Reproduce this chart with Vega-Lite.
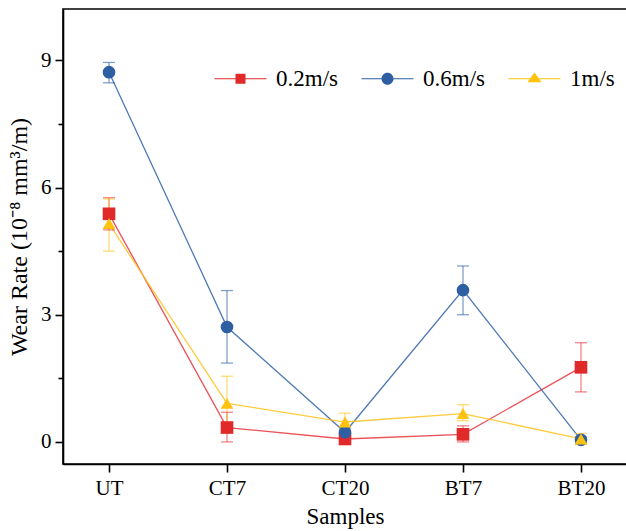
{
  "$schema": "https://vega.github.io/schema/vega-lite/v6.json",
  "autosize": "none",
  "width": 564,
  "height": 455,
  "padding": {"left": 63, "top": 9, "right": 0, "bottom": 67},
  "background": "white",
  "config": {
    "view": {"stroke": "black", "strokeWidth": 1.6},
    "font": "Liberation Serif"
  },
  "data": {
    "values": [
      {"sample": "UT", "speed": "0.2m/s", "rate": 5.38, "lo": 5.0, "hi": 5.76},
      {"sample": "CT7", "speed": "0.2m/s", "rate": 0.34, "lo": 0.0, "hi": 0.7},
      {"sample": "CT20", "speed": "0.2m/s", "rate": 0.07, "lo": 0.01, "hi": 0.13},
      {"sample": "BT7", "speed": "0.2m/s", "rate": 0.18, "lo": 0.0, "hi": 0.38},
      {"sample": "BT20", "speed": "0.2m/s", "rate": 1.76, "lo": 1.18, "hi": 2.34},
      {"sample": "UT", "speed": "0.6m/s", "rate": 8.72, "lo": 8.47, "hi": 8.95},
      {"sample": "CT7", "speed": "0.6m/s", "rate": 2.71, "lo": 1.86, "hi": 3.57},
      {"sample": "CT20", "speed": "0.6m/s", "rate": 0.23, "lo": 0.13, "hi": 0.33},
      {"sample": "BT7", "speed": "0.6m/s", "rate": 3.58, "lo": 3.0, "hi": 4.15},
      {"sample": "BT20", "speed": "0.6m/s", "rate": 0.05, "lo": -0.02, "hi": 0.12},
      {"sample": "UT", "speed": "1m/s", "rate": 5.15, "lo": 4.5, "hi": 5.73},
      {"sample": "CT7", "speed": "1m/s", "rate": 0.91, "lo": 0.28, "hi": 1.55},
      {"sample": "CT20", "speed": "1m/s", "rate": 0.47, "lo": 0.26, "hi": 0.68},
      {"sample": "BT7", "speed": "1m/s", "rate": 0.67, "lo": 0.5, "hi": 0.88},
      {"sample": "BT20", "speed": "1m/s", "rate": 0.07, "lo": -0.06, "hi": 0.2}
    ]
  },
  "encoding": {
    "x": {
      "field": "sample", "type": "ordinal",
      "sort": ["UT", "CT7", "CT20", "BT7", "BT20"],
      "scale": {"type": "point", "padding": 0.39},
      "axis": {
        "title": "Samples", "titleFontSize": 23, "titleFont": "Liberation Serif", "titleFontWeight": "normal", "titleColor": "black",
        "titlePadding": 7,
        "labelFontSize": 21, "labelFont": "Liberation Serif", "labelColor": "black", "labelAngle": 0, "labelPadding": 5,
        "tickSize": 8, "tickWidth": 1.6, "tickColor": "black",
        "domainColor": "black", "domainWidth": 1.6, "grid": false
      }
    },
    "y": {
      "field": "rate", "type": "quantitative",
      "scale": {"domain": [-0.52, 10.21], "nice": false, "zero": false},
      "axis": {
        "title": "Wear Rate (10⁻⁸ mm³/m)", "titleFontSize": 24, "titleFont": "Liberation Serif", "titleFontWeight": "normal", "titleColor": "black",
        "titlePadding": 9,
        "values": [0, 1.5, 3, 4.5, 6, 7.5, 9],
        "labelExpr": "datum.value % 3 === 0 ? datum.label : ''",
        "labelFontSize": 21, "labelFont": "Liberation Serif", "labelColor": "black", "labelPadding": 4,
        "tickSize": {"condition": {"test": "datum.value % 3 !== 0", "value": 5}, "value": 8},
        "tickWidth": 1.6, "tickColor": "black",
        "domainColor": "black", "domainWidth": 1.6, "grid": false
      }
    }
  },
  "resolve": {"scale": {"color": "independent", "shape": "independent"}},
  "layer": [
    {
      "mark": {"type": "line", "strokeWidth": 1.3, "opacity": 0.85},
      "encoding": {
        "color": {"field": "speed", "type": "nominal", "scale": {"domain": ["0.2m/s", "0.6m/s", "1m/s"], "range": ["#E8333A", "#2F62A8", "#FFC21A"]}, "legend": null}
      }
    },
    {
      "mark": {"type": "rule", "strokeWidth": 1.3, "opacity": 0.6},
      "encoding": {
        "y": {"field": "lo", "type": "quantitative"},
        "y2": {"field": "hi"},
        "color": {"field": "speed", "type": "nominal", "scale": {"domain": ["0.2m/s", "0.6m/s", "1m/s"], "range": ["#E8333A", "#2F62A8", "#FFC21A"]}, "legend": null}
      }
    },
    {
      "mark": {"type": "tick", "size": 12, "thickness": 1.3, "opacity": 0.6},
      "encoding": {
        "y": {"field": "lo", "type": "quantitative"},
        "color": {"field": "speed", "type": "nominal", "scale": {"domain": ["0.2m/s", "0.6m/s", "1m/s"], "range": ["#E8333A", "#2F62A8", "#FFC21A"]}, "legend": null}
      }
    },
    {
      "mark": {"type": "tick", "size": 12, "thickness": 1.3, "opacity": 0.6},
      "encoding": {
        "y": {"field": "hi", "type": "quantitative"},
        "color": {"field": "speed", "type": "nominal", "scale": {"domain": ["0.2m/s", "0.6m/s", "1m/s"], "range": ["#E8333A", "#2F62A8", "#FFC21A"]}, "legend": null}
      }
    },
    {
      "mark": {"type": "point", "filled": true, "opacity": 1},
      "encoding": {
        "color": {"field": "speed", "type": "nominal", "scale": {"domain": ["0.2m/s", "0.6m/s", "1m/s"], "range": ["#E02A2A", "#2E5FA3", "#FFC20E"]}, "legend": null},
        "shape": {"field": "speed", "type": "nominal", "scale": {"domain": ["0.2m/s", "0.6m/s", "1m/s"], "range": ["square", "circle", "triangle-up"]}, "legend": null},
        "size": {"value": 160}
      }
    },
    {
      "transform": [{"filter": "datum.rate > 100"}],
      "mark": {"type": "point", "filled": true, "opacity": 1},
      "encoding": {
        "x": null,
        "y": null,
        "color": {"field": "speed", "type": "nominal", "scale": {"domain": ["0.2m/s", "0.6m/s", "1m/s"], "range": ["#E02A2A", "#2E5FA3", "#FFC20E"]},
          "legend": {"title": null, "orient": "none", "direction": "horizontal", "legendX": 145, "legendY": 58,
            "symbolSize": 100, "symbolOffset": 21, "labelOffset": 24, "columnPadding": 17, "padding": 0,
            "labelFont": "Liberation Serif", "labelFontSize": 23, "labelColor": "black", "symbolOpacity": 1}},
        "shape": {"field": "speed", "type": "nominal", "scale": {"domain": ["0.2m/s", "0.6m/s", "1m/s"], "range": [
          "M-5.2,-0.1H5.2V0.1H-5.2Z M-1,-1H1V1H-1Z",
          "M-5.2,-0.1H5.2V0.1H-5.2Z M-1.2,0A1.2,1.2 0 1,1 1.2,0A1.2,1.2 0 1,1 -1.2,0Z",
          "M-5.2,-0.1H5.2V0.1H-5.2Z M0,-1.25L1.4,0.7L-1.4,0.7Z"
        ]},
          "legend": {"title": null, "orient": "none", "direction": "horizontal", "legendX": 145, "legendY": 58,
            "symbolSize": 100, "symbolOffset": 21, "labelOffset": 24, "columnPadding": 17, "padding": 0,
            "labelFont": "Liberation Serif", "labelFontSize": 23, "labelColor": "black", "symbolOpacity": 1}}
      }
    }
  ]
}
